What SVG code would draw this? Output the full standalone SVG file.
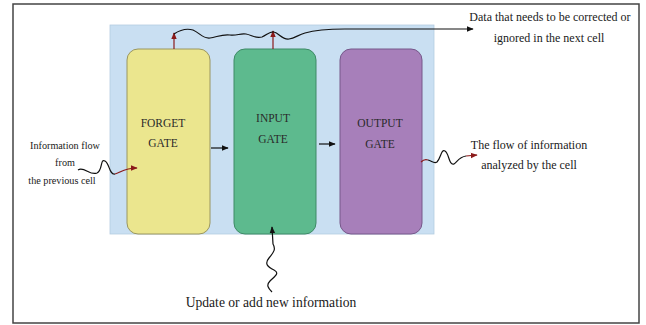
<svg xmlns="http://www.w3.org/2000/svg" width="646" height="325" viewBox="0 0 646 325">
<style>
.t{font-family:"Liberation Serif","Times New Roman",serif;fill:#1a1a1a;text-anchor:middle;dominant-baseline:central}
.g{font-size:11.5px;fill:#2a2a2a}
.s{font-size:10.2px}
.m{font-size:12px}
.b{font-size:13.6px}
.k{fill:none;stroke:#111;stroke-width:1.2}
.r{fill:none;stroke:#8b1a1a;stroke-width:1.2}
</style>
<defs>
<marker id="ak" viewBox="0 0 10 10" refX="9" refY="5" markerWidth="7" markerHeight="7" orient="auto" markerUnits="userSpaceOnUse"><path d="M0,1 L10,5 L0,9 Z" fill="#111"/></marker>
<marker id="ar" viewBox="0 0 10 10" refX="9" refY="5" markerWidth="7" markerHeight="7" orient="auto" markerUnits="userSpaceOnUse"><path d="M0,1 L10,5 L0,9 Z" fill="#8b1a1a"/></marker>
</defs>
<rect x="0" y="0" width="646" height="325" fill="#fff"/>
<rect x="13" y="4" width="626" height="319" fill="#fff" stroke="#444" stroke-width="1.5"/>
<rect id="cell" x="110" y="25" width="324" height="209" fill="#c9dff2" stroke="#b4cce0" stroke-width="0.8"/>
<g id="forget">
<rect x="127" y="49" width="83" height="185" rx="11" fill="#ebe68e" stroke="#9a9660" stroke-width="1"/>
<text class="t g" x="163" y="123">FORGET</text>
<text class="t g" x="163" y="143">GATE</text>
</g>
<g id="input">
<rect x="234" y="49" width="82" height="185" rx="11" fill="#5dba8e" stroke="#3e8a66" stroke-width="1"/>
<text class="t g" x="273" y="118">INPUT</text>
<text class="t g" x="273" y="139">GATE</text>
</g>
<g id="output">
<rect x="340" y="49" width="82" height="185" rx="11" fill="#a77fba" stroke="#76588a" stroke-width="1"/>
<text class="t g" x="380" y="123">OUTPUT</text>
<text class="t g" x="380" y="144">GATE</text>
</g>
<g id="connectors">
<path class="k" d="M211,148 L228,148" marker-end="url(#ak)"/>
<path class="k" d="M319,144 L335,144" marker-end="url(#ak)"/>
<path class="r" d="M174,49 L174,33" marker-end="url(#ar)"/>
<path class="r" d="M273,49 L273,31" marker-end="url(#ar)"/>
<path class="k" d="M174,34 C180,30 186,28 193,30 C200,33 203,39 210,38 C217,37 222,34 230,35 C237,36 240,33 246,34 C252,35 255,39 262,37 C267,35 270,31 274,32 C279,33 282,40 289,39 C295,38 298,35 305,33 C315,30 330,29 345,29 L473,29" marker-end="url(#ak)"/>
<path class="k" d="M78,170 C84,166 90,176 97,173 C103,170 100,158 105,161 C110,164 109,175 115,174"/>
<path class="r" d="M115,174 C120,173 124,168 137,168" marker-end="url(#ar)"/>
<path class="r" d="M421,162 C423,160 425,159 428,160"/>
<path class="k" d="M428,160 C432,161 434,164 437,162 C441,158 441,149 445,151 C449,153 449,166 454,164 C457,162 459,157 466,156"/>
<path class="r" d="M466,156 L477,155" marker-end="url(#ar)"/>
<path class="k" d="M272,292 C268,288 266,285 270,281 C275,276 280,273 274,270 C268,267 264,264 269,258 C274,252 276,249 273,244 L272,227" marker-end="url(#ak)"/>
</g>
<g id="labels">
<text class="t m" x="550" y="17">Data that needs to be corrected or</text>
<text class="t m" x="549" y="38">ignored in the next cell</text>
<text class="t m" x="529" y="145">The flow of information</text>
<text class="t m" x="529" y="165">analyzed by the cell</text>
<text class="t s" x="65" y="145">Information flow</text>
<text class="t s" x="65" y="162">from</text>
<text class="t s" x="62" y="180">the previous cell</text>
<text class="t b" x="271" y="302">Update or add new information</text>
</g>
</svg>
